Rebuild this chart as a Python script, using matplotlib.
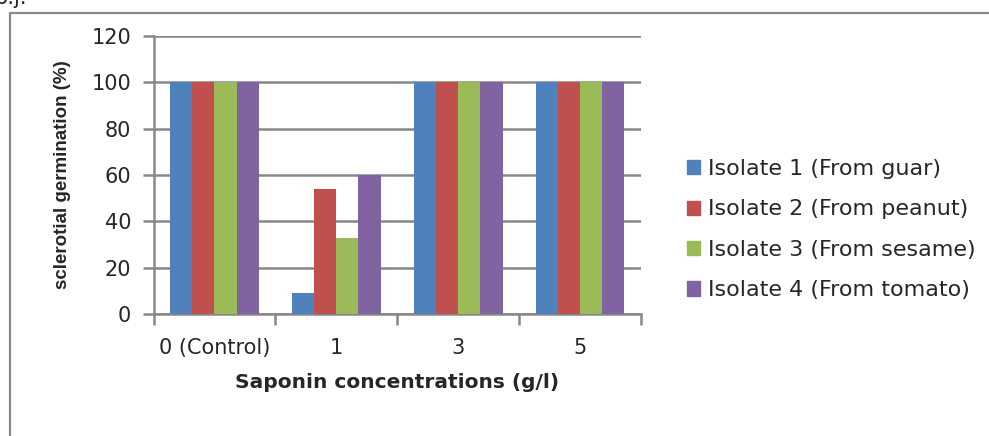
import matplotlib
matplotlib.use("Agg")
import matplotlib.pyplot as plt
import numpy as np
from matplotlib.patches import Rectangle

categories = ["0 (Control)", "1", "3", "5"]
series_names = ["Isolate 1 (From guar)", "Isolate 2 (From peanut)",
                "Isolate 3 (From sesame)", "Isolate 4 (From tomato)"]
isolate1 = [100, 9, 100, 100]
isolate2 = [100, 54, 100, 100]
isolate3 = [100, 33, 100, 100]
isolate4 = [100, 60, 100, 100]
y_ticks = [0, 20, 40, 60, 80, 100, 120]

colors = ["#4F81BD", "#C0504D", "#9BBB59", "#8064A2"]
grid_color = "#888888"
FONT = "DejaVu Sans"
TEXT_COLOR = "#262626"

W, H = 989, 436
fig = plt.figure(figsize=(W / 100, H / 100), dpi=100)

def fx(px):
    return px / W

def fy(py):
    return 1 - py / H

# outer chart frame (runs past right and bottom edges)
fig.patches.append(Rectangle((fx(10), fy(470)), fx(1100), (470 - 13) / H,
                             transform=fig.transFigure, fill=False,
                             edgecolor="#8a8a8a", linewidth=1.6, clip_on=True))
fig.text(fx(-5), fy(4), "6.j.", fontsize=15, family=FONT, color=TEXT_COLOR,
         va="baseline", ha="left")

ax = fig.add_axes([fx(153.5), fy(314), fx(641 - 153.5), (314 - 36) / H])

data = [isolate1, isolate2, isolate3, isolate4]
n = len(data)
width = 1 / (n + 1.5)
x = np.arange(len(categories))
for i, (vals, c, name) in enumerate(zip(data, colors, series_names)):
    ax.bar(x + (i - (n - 1) / 2) * width, vals, width, color=c, label=name,
           edgecolor="none", zorder=3)

ax.set_xlim(-0.5, len(categories) - 0.5)
ax.set_ylim(0, 120)
ax.set_yticks(y_ticks)
ax.set_yticklabels([str(v) for v in y_ticks], fontsize=15, family=FONT,
                   color=TEXT_COLOR)
ax.yaxis.grid(True, color=grid_color, linewidth=1.8, zorder=0)
ax.set_axisbelow(True)

ax.set_xticks(x)
ax.set_xticklabels(categories, fontsize=15, family=FONT, color=TEXT_COLOR)
ax.set_xticks(np.arange(len(categories) + 1) - 0.5, minor=True)
ax.tick_params(axis="x", which="major", length=0, pad=17)
ax.tick_params(axis="x", which="minor", length=8, width=1.8, color=grid_color,
               direction="out")
ax.tick_params(axis="y", length=8, width=1.8, color=grid_color, pad=8)

for s in ["top", "right"]:
    ax.spines[s].set_visible(False)
for s in ["left", "bottom"]:
    ax.spines[s].set_color(grid_color)
    ax.spines[s].set_linewidth(1.8)

ax.set_ylabel("sclerotial germination (%)", fontsize=13.5, fontweight="bold",
              family=["Liberation Sans Narrow", "Liberation Sans"], labelpad=15,
              color=TEXT_COLOR)
ax.set_xlabel("Saponin concentrations (g/l)", fontsize=14.5, fontweight="bold",
              family=FONT, labelpad=11, color=TEXT_COLOR)

handles = [Rectangle((0, 0), 1, 1, color=c) for c in colors]
leg = fig.legend(handles, series_names, loc="upper left",
                 bbox_to_anchor=(fx(667), fy(139)), frameon=False,
                 prop={"family": FONT, "size": 16}, handlelength=0.6,
                 handleheight=0.6, handletextpad=0.36, labelspacing=0.92)
for t in leg.get_texts():
    t.set_color(TEXT_COLOR)

fig.savefig("out.png", dpi=100)
